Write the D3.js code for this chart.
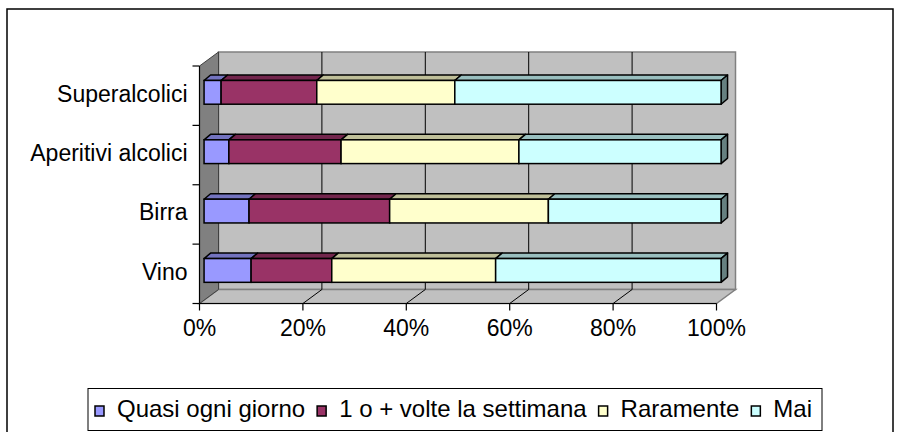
<!DOCTYPE html>
<html>
<head>
<meta charset="utf-8">
<script src="https://cdn.jsdelivr.net/npm/d3@7"></script>
<style>
  body { margin: 0; background: #fff; }
  text { font-family: "Liberation Sans", Arial, sans-serif; fill: #000; }
</style>
</head>
<body>
<div id="chart"></div>
<script>
var categories = ["Superalcolici", "Aperitivi alcolici", "Birra", "Vino"];
var seriesNames = ["Quasi ogni giorno", "1 o + volte la settimana", "Raramente", "Mai"];
var quasiOgniGiorno = [3.3, 4.8, 8.7, 9.1];
var settimana = [18.5, 21.7, 27.2, 15.6];
var raramente = [26.7, 34.4, 30.7, 31.7];
var mai = [51.5, 39.1, 33.4, 43.6];
var tickValues = [0, 0.2, 0.4, 0.6, 0.8, 1];
var colors = ["#9999FF", "#993366", "#FFFFCC", "#CCFFFF"];

var fullWidth = 900;
var fullHeight = 432;
var plot = { left: 199.5, right: 716.5, top: 66, bottom: 303.5 };
var depth = { dx: 19, dy: -14 };     // wall depth
var barZ = 0.24;                     // bar front face position in depth
var barDepth = { dx: 6.5, dy: -5.5 };
var fontSize = 23;
var legendFont = 24;

var data = categories.map(function (c, i) {
    return {
        cat: c,
        "Quasi ogni giorno": quasiOgniGiorno[i],
        "1 o + volte la settimana": settimana[i],
        "Raramente": raramente[i],
        "Mai": mai[i]
    };
});

var svg = d3.select("#chart").append("svg")
    .attr("width", fullWidth)
    .attr("height", fullHeight);

// outer chart border
svg.append("rect")
    .attr("x", 7).attr("y", 9)
    .attr("width", 886).attr("height", 460)
    .attr("fill", "none").attr("stroke", "#000").attr("stroke-width", 1.5);

var x = d3.scaleLinear().domain([0, 1]).range([plot.left, plot.right]);
var y = d3.scaleBand().domain(categories).range([plot.top, plot.bottom])
    .paddingInner(0.6).paddingOuter(0.3);
var color = d3.scaleOrdinal().domain(seriesNames).range(colors);

function shade(c, k) {
    var r = d3.rgb(c);
    return d3.rgb(r.r * k, r.g * k, r.b * k).formatHex();
}
function poly(pts) {
    return pts.map(function (p) { return p.join(","); }).join(" ");
}

var g = svg.append("g");

// back wall
g.append("polygon")
    .attr("points", poly([
        [plot.left + depth.dx, plot.top + depth.dy],
        [plot.right + depth.dx, plot.top + depth.dy],
        [plot.right + depth.dx, plot.bottom + depth.dy],
        [plot.left + depth.dx, plot.bottom + depth.dy]]))
    .attr("fill", "#c0c0c0").attr("stroke", "#808080").attr("stroke-width", 1.5);

// floor
g.append("polygon")
    .attr("points", poly([
        [plot.left, plot.bottom],
        [plot.left + depth.dx, plot.bottom + depth.dy],
        [plot.right + depth.dx, plot.bottom + depth.dy],
        [plot.right, plot.bottom]]))
    .attr("fill", "#c0c0c0").attr("stroke", "#808080").attr("stroke-width", 1.5);

// side wall
g.append("polygon")
    .attr("points", poly([
        [plot.left, plot.top],
        [plot.left + depth.dx, plot.top + depth.dy],
        [plot.left + depth.dx, plot.bottom + depth.dy],
        [plot.left, plot.bottom]]))
    .attr("fill", "#808080").attr("stroke", "#404040").attr("stroke-width", 1);

// gridlines on back wall and floor
var inner = tickValues.filter(function (t) { return t > 0 && t < 1; });
g.selectAll(".grid").data(inner).enter().append("line")
    .attr("x1", function (d) { return x(d) + depth.dx; })
    .attr("x2", function (d) { return x(d) + depth.dx; })
    .attr("y1", plot.top + depth.dy)
    .attr("y2", plot.bottom + depth.dy)
    .attr("stroke", "#000").attr("stroke-width", 1);
g.selectAll(".floorgrid").data(inner).enter().append("line")
    .attr("x1", function (d) { return x(d) + depth.dx; })
    .attr("x2", function (d) { return x(d); })
    .attr("y1", plot.bottom + depth.dy)
    .attr("y2", plot.bottom)
    .attr("stroke", "#000").attr("stroke-width", 1);

// axis lines + ticks
g.append("line").attr("x1", plot.left).attr("x2", plot.left)
    .attr("y1", plot.top).attr("y2", plot.bottom)
    .attr("stroke", "#000").attr("stroke-width", 1.2);
g.append("line").attr("x1", plot.left).attr("x2", plot.right)
    .attr("y1", plot.bottom).attr("y2", plot.bottom)
    .attr("stroke", "#000").attr("stroke-width", 1.2);

var step = y.step();
var catEdges = d3.range(categories.length + 1).map(function (i) { return plot.top + i * step; });
g.selectAll(".ytick").data(catEdges).enter().append("line")
    .attr("x1", plot.left - 7).attr("x2", plot.left)
    .attr("y1", function (d) { return d; }).attr("y2", function (d) { return d; })
    .attr("stroke", "#000").attr("stroke-width", 1.2);
g.selectAll(".xtick").data(tickValues).enter().append("line")
    .attr("x1", function (d) { return x(d); }).attr("x2", function (d) { return x(d); })
    .attr("y1", plot.bottom).attr("y2", plot.bottom + 7)
    .attr("stroke", "#000").attr("stroke-width", 1.2);

g.selectAll(".xlabel").data(tickValues).enter().append("text")
    .attr("x", function (d) { return x(d); })
    .attr("y", 336)
    .attr("text-anchor", "middle")
    .style("font-size", fontSize + "px")
    .text(function (d) { return Math.round(d * 100) + "%"; });

g.selectAll(".ylabel").data(categories).enter().append("text")
    .attr("x", plot.left - 12)
    .attr("y", function (d) { return y(d) + y.bandwidth() / 2 + 6; })
    .attr("text-anchor", "end")
    .style("font-size", fontSize + "px")
    .text(function (d) { return d; });

// stacked 3d bars
var stacked = d3.stack().keys(seriesNames).offset(d3.stackOffsetExpand)(data);
var fx = depth.dx * barZ, fy = depth.dy * barZ;
var bars = g.append("g");

categories.forEach(function (cat, ci) {
    var y0 = y(cat) + fy, h = y.bandwidth();
    stacked.forEach(function (layer, si) {
        var seg = layer[ci];
        var xa = x(seg[0]) + fx, xb = x(seg[1]) + fx;
        var c = color(layer.key);
        // top face
        bars.append("polygon")
            .attr("points", poly([[xa, y0], [xa + barDepth.dx, y0 + barDepth.dy],
                [xb + barDepth.dx, y0 + barDepth.dy], [xb, y0]]))
            .attr("fill", shade(c, 0.75)).attr("stroke", "#000").attr("stroke-width", 1.5)
            .attr("stroke-linejoin", "round");
        // right side face only at the end of the bar
        if (si === stacked.length - 1) {
            bars.append("polygon")
                .attr("points", poly([[xb, y0], [xb + barDepth.dx, y0 + barDepth.dy],
                    [xb + barDepth.dx, y0 + h + barDepth.dy], [xb, y0 + h]]))
                .attr("fill", shade(c, 0.5)).attr("stroke", "#000").attr("stroke-width", 1.5)
                .attr("stroke-linejoin", "round");
        }
        // front face
        bars.append("rect")
            .attr("x", xa).attr("y", y0)
            .attr("width", xb - xa).attr("height", h)
            .attr("fill", c).attr("stroke", "#000").attr("stroke-width", 1.5);
    });
});

// legend
var legendBox = { x: 88, y: 388.5, w: 734, h: 42 };
var lg = svg.append("g");
lg.append("rect")
    .attr("x", legendBox.x).attr("y", legendBox.y)
    .attr("width", legendBox.w).attr("height", legendBox.h)
    .attr("fill", "#fff").attr("stroke", "#000").attr("stroke-width", 1);

var items = lg.selectAll(".item").data(seriesNames).enter().append("g");
items.append("rect")
    .attr("x", 0).attr("y", -11)
    .attr("width", 9).attr("height", 10)
    .attr("fill", function (d) { return color(d); })
    .attr("stroke", "#000").attr("stroke-width", 1.5);
var labels = items.append("text")
    .attr("x", 22).attr("y", 0)
    .style("font-size", legendFont + "px")
    .text(function (d) { return d; });

var widths = [];
labels.each(function () { widths.push(this.getComputedTextLength()); });
var gap = 12;
var cx = legendBox.x + 7;
items.attr("transform", function (d, i) {
    var tx = cx;
    cx += 22 + widths[i] + gap;
    return "translate(" + tx + "," + 417 + ")";
});
</script>
</body>
</html>
